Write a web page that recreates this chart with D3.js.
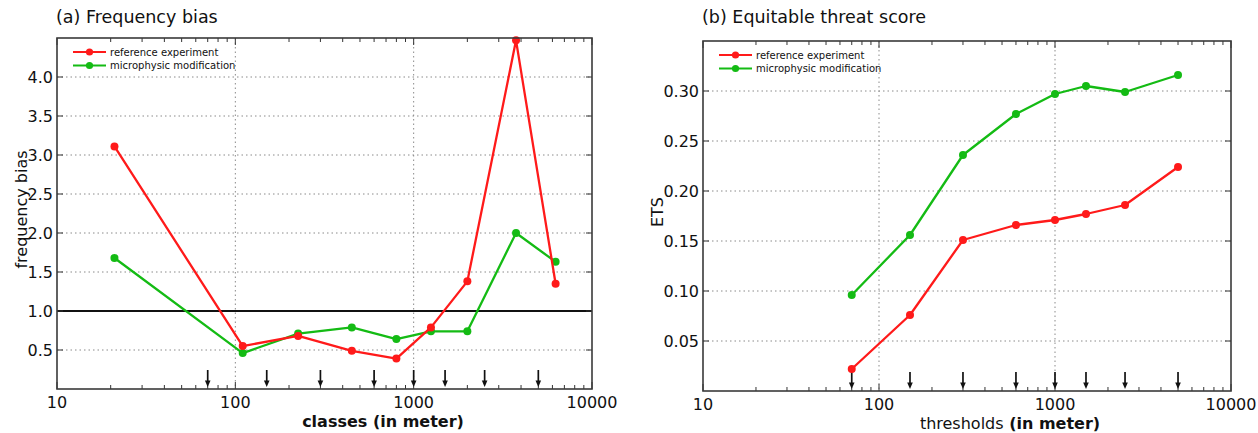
<!DOCTYPE html>
<html>
<head>
<meta charset="utf-8">
<script src="https://cdn.jsdelivr.net/npm/d3@7"></script>
<style>
  html, body { margin: 0; padding: 0; background: #fff; }
  svg { display: block; font-family: "DejaVu Sans", sans-serif; }
</style>
</head>
<body>
<svg id="chart" width="1258" height="433"></svg>
<script>
// Class midpoints (m) for the frequency bias panel
const classes = [21, 110, 225, 450, 800, 1250, 2000, 3750, 6250];
const biasReference = [3.11, 0.55, 0.68, 0.49, 0.39, 0.79, 1.38, 4.47, 1.35];
const biasModified  = [1.68, 0.46, 0.71, 0.79, 0.64, 0.74, 0.74, 2.00, 1.63];

// Thresholds (m) for the ETS panel, also marked by arrows on both panels
const thresholds = [70, 150, 300, 600, 1000, 1500, 2500, 5000];
const etsReference = [0.022, 0.076, 0.151, 0.166, 0.171, 0.177, 0.186, 0.224];
const etsModified  = [0.096, 0.156, 0.236, 0.277, 0.297, 0.305, 0.299, 0.316];

const xTickValues = [10, 100, 1000, 10000];
const xTickLabels = ["10", "100", "1000", "10000"];
const biasTicks = [0.5, 1.0, 1.5, 2.0, 2.5, 3.0, 3.5, 4.0];
const etsTicks = [0.05, 0.10, 0.15, 0.20, 0.25, 0.30];

const seriesNames = ["reference experiment", "microphysic modification"];
const RED = "#ff1a1a";
const GREEN = "#14bb14";

const svg = d3.select("#chart");

function panel(cfg) {
  const g = svg.append("g");
  const x = d3.scaleLog().domain([10, 10000]).range([cfg.x0, cfg.x1]);
  const y = d3.scaleLinear().domain(cfg.yDomain).range([cfg.y1, cfg.y0]);

  // dotted grid
  g.append("g").selectAll("line").data(cfg.yTicks).join("line")
    .attr("x1", cfg.x0).attr("x2", cfg.x1)
    .attr("y1", d => y(d)).attr("y2", d => y(d))
    .attr("stroke", "#8a8a8a").attr("stroke-width", 1).attr("stroke-dasharray", "1.5,3");
  g.append("g").selectAll("line").data([100, 1000]).join("line")
    .attr("x1", d => x(d)).attr("x2", d => x(d))
    .attr("y1", cfg.y0).attr("y2", cfg.y1)
    .attr("stroke", "#8a8a8a").attr("stroke-width", 1).attr("stroke-dasharray", "1.5,3");

  // reference line at 1.0
  if (cfg.refLine !== undefined) {
    g.append("line")
      .attr("x1", cfg.x0).attr("x2", cfg.x1)
      .attr("y1", y(cfg.refLine)).attr("y2", y(cfg.refLine))
      .attr("stroke", "#111").attr("stroke-width", 1.8);
  }

  // inward ticks on all sides
  const minor = [];
  [10, 100, 1000].forEach(d => { for (let k = 2; k <= 9; k++) minor.push(d * k); });
  const tickG = g.append("g").attr("stroke", "#333").attr("stroke-width", 1);
  [cfg.y1, cfg.y0].forEach((yy, i) => {
    const dir = i === 0 ? -1 : 1;
    tickG.append("g").selectAll("line").data(minor).join("line")
      .attr("x1", d => x(d)).attr("x2", d => x(d))
      .attr("y1", yy).attr("y2", yy + dir * 4);
    tickG.append("g").selectAll("line").data(xTickValues).join("line")
      .attr("x1", d => x(d)).attr("x2", d => x(d))
      .attr("y1", yy).attr("y2", yy + dir * 7);
  });
  [cfg.x0, cfg.x1].forEach((xx, i) => {
    const dir = i === 0 ? 1 : -1;
    tickG.append("g").selectAll("line").data(cfg.yTicks).join("line")
      .attr("x1", xx).attr("x2", xx + dir * 6)
      .attr("y1", d => y(d)).attr("y2", d => y(d));
  });

  // threshold arrows
  const arrows = g.append("g");
  thresholds.forEach(t => {
    const ax = x(t);
    arrows.append("line")
      .attr("x1", ax).attr("x2", ax)
      .attr("y1", cfg.y1 - 19).attr("y2", cfg.y1 - 6)
      .attr("stroke", "#111").attr("stroke-width", 1.7);
    arrows.append("path")
      .attr("d", `M${ax - 2.8},${cfg.y1 - 8.5} L${ax + 2.8},${cfg.y1 - 8.5} L${ax},${cfg.y1 - 2} Z`)
      .attr("fill", "#111");
  });

  // series
  const line = d3.line().x(d => x(d[0])).y(d => y(d[1]));
  const series = [
    { values: cfg.ref, color: RED },
    { values: cfg.mod, color: GREEN }
  ];
  const drawOrder = cfg.drawOrder || [0, 1];
  drawOrder.forEach(i => {
    const s = series[i];
    const pts = cfg.xs.map((v, j) => [v, s.values[j]]);
    g.append("path").datum(pts)
      .attr("d", line).attr("fill", "none")
      .attr("stroke", s.color).attr("stroke-width", 2.3)
      .attr("stroke-linejoin", "round");
    g.append("g").selectAll("circle").data(pts).join("circle")
      .attr("cx", d => x(d[0])).attr("cy", d => y(d[1]))
      .attr("r", 4).attr("fill", s.color);
  });

  // frame
  g.append("rect")
    .attr("x", cfg.x0).attr("y", cfg.y0)
    .attr("width", cfg.x1 - cfg.x0).attr("height", cfg.y1 - cfg.y0)
    .attr("fill", "none").attr("stroke", "#3a3a3a").attr("stroke-width", 1.6);

  // tick labels
  g.append("g").selectAll("text").data(cfg.yTicks).join("text")
    .attr("x", cfg.x0 - 4).attr("y", d => y(d) + 6)
    .attr("text-anchor", "end").attr("font-size", 16).attr("fill", "#111")
    .text(d => d3.format(cfg.yFormat)(d));
  g.append("g").selectAll("text").data(xTickValues).join("text")
    .attr("x", d => x(d)).attr("y", cfg.y1 + 19)
    .attr("text-anchor", "middle").attr("font-size", 16).attr("fill", "#111")
    .text((d, i) => xTickLabels[i]);

  // title
  g.append("text")
    .attr("x", cfg.x0 - 1).attr("y", 23)
    .attr("font-size", 17.5).attr("fill", "#111")
    .text(cfg.title);

  // axis labels
  const xl = g.append("text")
    .attr("x", cfg.xLabelX).attr("y", cfg.y1 + 38)
    .attr("text-anchor", "middle").attr("font-size", 16).attr("fill", "#111");
  xl.append("tspan").attr("font-weight", cfg.xLabelBold ? "bold" : "normal").text(cfg.xLabel);
  xl.append("tspan").attr("font-weight", "bold").text(" (in meter)");

  g.append("text")
    .attr("transform", `translate(${cfg.yLabelX},${(cfg.y0 + cfg.y1) / 2 - 4}) rotate(-90)`)
    .attr("text-anchor", "middle").attr("font-size", 16).attr("fill", "#111")
    .text(cfg.yLabel);

  // legend
  const lg = g.append("g").attr("transform", `translate(${cfg.x0 + 16},${cfg.y0 + 14})`);
  [RED, GREEN].forEach((c, i) => {
    const row = lg.append("g").attr("transform", `translate(0,${i * 13.5})`);
    row.append("line").attr("x1", 0).attr("x2", 33).attr("y1", 0).attr("y2", 0)
      .attr("stroke", c).attr("stroke-width", 2.2);
    row.append("circle").attr("cx", 16.5).attr("cy", 0).attr("r", 3.6).attr("fill", c);
    row.append("text").attr("x", 37).attr("y", 3.5)
      .attr("font-size", 10).attr("fill", "#111").text(seriesNames[i]);
  });
}

panel({
  x0: 57, x1: 592, y0: 38, y1: 389,
  yDomain: [0, 4.5], yTicks: biasTicks, yFormat: ".1f",
  xs: classes, ref: biasReference, mod: biasModified,
  refLine: 1.0,
  title: "(a) Frequency bias",
  xLabel: "classes", xLabelBold: true, xLabelX: 383,
  yLabel: "frequency bias", yLabelX: 27,
  drawOrder: [1, 0]
});

panel({
  x0: 703, x1: 1231, y0: 41, y1: 391,
  yDomain: [0, 0.35], yTicks: etsTicks, yFormat: ".2f",
  xs: thresholds, ref: etsReference, mod: etsModified,
  title: "(b) Equitable threat score",
  xLabel: "thresholds", xLabelBold: false, xLabelX: 1010,
  yLabel: "ETS", yLabelX: 663,
  drawOrder: [0, 1]
});
</script>
</body>
</html>
